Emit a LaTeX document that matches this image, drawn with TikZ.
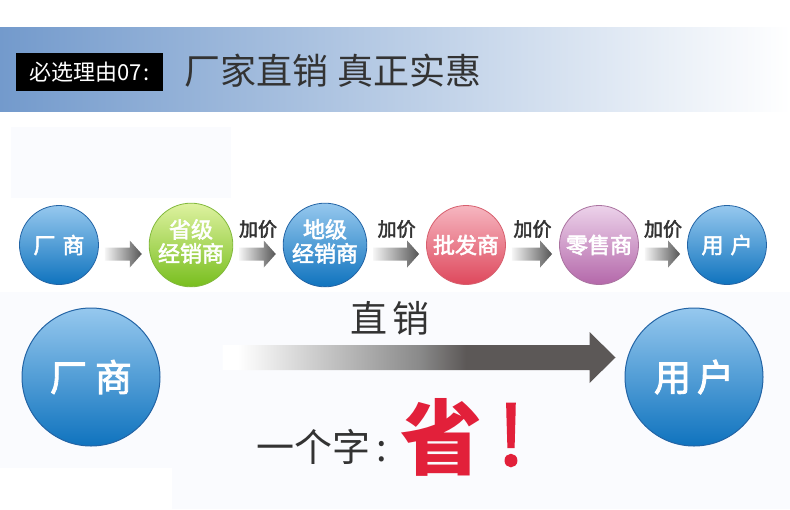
\documentclass[tikz,border=0pt]{standalone}
\usepackage{fontspec}
\setmainfont{Noto Sans CJK SC}
\newfontfamily\semi{Noto Sans CJK SC}[FakeBold=2.5]
\usetikzlibrary{calc}
\definecolor{band}{RGB}{115,154,204}
\definecolor{bgfaint}{RGB}{250,251,254}
\definecolor{titlegray}{RGB}{51,51,51}
\definecolor{blueT}{RGB}{150,200,238}
\definecolor{blueB}{RGB}{15,115,190}
\definecolor{blueD}{RGB}{35,100,165}
\definecolor{greenT}{RGB}{222,242,160}
\definecolor{greenB}{RGB}{120,190,30}
\definecolor{greenD}{RGB}{130,185,60}
\definecolor{pinkT}{RGB}{246,182,192}
\definecolor{pinkB}{RGB}{222,72,92}
\definecolor{pinkD}{RGB}{215,95,110}
\definecolor{purpT}{RGB}{236,210,234}
\definecolor{purpB}{RGB}{180,104,170}
\definecolor{purpD}{RGB}{170,115,160}
\definecolor{arrL}{RGB}{245,245,245}
\definecolor{arrR}{RGB}{85,85,85}
\definecolor{bfA}{RGB}{208,208,208}
\definecolor{bfB}{RGB}{138,138,138}
\definecolor{bfC}{RGB}{92,88,87}
\definecolor{shengred}{RGB}{226,32,58}
\pgfdeclarehorizontalshading{bigfade}{100bp}{color(0bp)=(white); color(27bp)=(white); color(36bp)=(bfA); color(50bp)=(bfB); color(56bp)=(bfC); color(100bp)=(bfC)}
\newcommand\blockarr[6]{% from, to, shaft half, head half, head length, shading options
  \shade[#6] ($(#1)+(0,-#3)$) -- ($(#2)+(-#5,-#3)$) -- ($(#2)+(-#5,-#4)$) -- (#2)
    -- ($(#2)+(-#5,#4)$) -- ($(#2)+(-#5,#3)$) -- ($(#1)+(0,#3)$) -- cycle;}
\tikzset{
  sc/.style={circle, minimum size=79, inner sep=0, line width=0.8, text=white,
    font=\fontsize{22}{24}\semi, align=center},
  twoline/.style={text depth=9pt},
  bc/.style={circle, minimum size=138, inner sep=0, line width=1, text=white,
    font=\fontsize{37}{37}\semi},
  blueball/.style={top color=blueT, bottom color=blueB, draw=blueD},
  greenball/.style={top color=greenT, bottom color=greenB, draw=greenD},
  pinkball/.style={top color=pinkT, bottom color=pinkB, draw=pinkD},
  purpball/.style={top color=purpT, bottom color=purpB, draw=purpD},
  lab/.style={text=titlegray, font=\fontsize{19}{19}\semi, inner sep=0},
  smallarr/.style={left color=arrL, right color=arrR},
}
\begin{document}
\begin{tikzpicture}[x=1pt,y=-1pt]
\useasboundingbox (0,0) rectangle (790,509);
\fill[white] (0,0) rectangle (790,509);
\fill[bgfaint] (11,127) rectangle (231,198);
\fill[bgfaint] (0,292) rectangle (790,509);
\fill[white] (0,468) rectangle (172,509);
% header
\shade[left color=band, right color=white] (0,27) rectangle (790,111);
\node[fill=black, text=white, font=\fontsize{22}{22}\selectfont, minimum width=147, minimum height=38, inner sep=0] (tag) at (89.5,72) {必选理由07\hspace{2pt}:};
\node[anchor=west, text=titlegray, font=\fontsize{36}{36}\selectfont, inner sep=0] (title) at (184,71) {厂家直销\hspace{9pt}真正实惠};
% chain
\node[sc, blueball] (m1) at (59,245) {厂\hspace{7pt}商};
\node[sc, greenball, twoline] (d1) at (191,245) {省级\\经销商};
\node[sc, blueball, twoline] (d2) at (325,245) {地级\\经销商};
\node[sc, pinkball] (w) at (466,245) {批发商};
\node[sc, purpball] (r) at (599,245) {零售商};
\node[sc, blueball] (u1) at (727,245) {用\hspace{7pt}户};
\foreach \a/\b/\i in {m1/d1/1, d1/d2/2, d2/w/3, w/r/4, r/u1/5}{
  \coordinate (s\i) at ($(\a.east)+(6,9)$);
  \coordinate (e\i) at ($(\b.west)+(-7,9)$);
  \blockarr{s\i}{e\i}{6.5}{13.5}{12}{smallarr}
}
\foreach \a/\b/\i in {d1/d2/2, d2/w/3, w/r/4, r/u1/5}{
  \node[lab] (p\i) at ($(\a.east)!0.5!(\b.west)+(0,-16)$) {加价};
}
% direct
\node[bc, blueball] (m2) at (91,377) {厂\hspace{8pt}商};
\node[bc, blueball] (u2) at (694,377) {用\hspace{6pt}户};
\coordinate (bs) at ($(m2.east)+(62,-19.5)$);
\coordinate (be) at ($(u2.west)+(-9,-19.5)$);
\blockarr{bs}{be}{12.5}{25.5}{26}{shading=bigfade}
\node[text=titlegray, font=\fontsize{37}{37}\selectfont, inner sep=0] (zx) at (390,318) {直\hspace{6pt}销};
\node[anchor=west, text=titlegray, font=\fontsize{38}{38}\selectfont, inner sep=0] (yz) at (256,447) {一个字\hspace{6pt}:};
\node[text=shengred, font=\fontsize{82}{82}\selectfont\bfseries, inner sep=0] (sheng) at (441,437) {省};
\node[text=shengred, font=\fontsize{82}{82}\semi, inner sep=0] (excl) at (511,435) {!};
\end{tikzpicture}
\end{document}
